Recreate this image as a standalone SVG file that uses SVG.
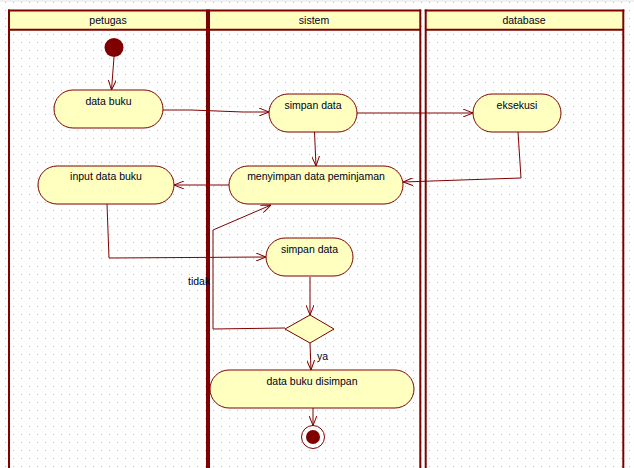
<svg xmlns="http://www.w3.org/2000/svg" width="634" height="468" viewBox="0 0 634 468">
<style>
.lane{stroke:#800000;fill:none}
.hdr{fill:#ffffc0}
.node rect,.node polygon{fill:#ffffc0;stroke:#800000;stroke-width:1}
text{font-family:"Liberation Sans",Arial,sans-serif;font-size:10.5px;fill:#000020}
.c text{text-anchor:start}
.node text,.lbl{text-anchor:middle}
.conn path{fill:none;stroke:#800000;stroke-width:1;marker-end:url(#arr)}
</style>
<defs>
<pattern id="grid" x="5" y="2" width="8" height="8" patternUnits="userSpaceOnUse">
<rect x="0" y="0" width="1" height="1" fill="#c0c0c0"/>
</pattern>
<marker id="arr" viewBox="0 0 10 8" refX="10" refY="4" markerWidth="10" markerHeight="8" orient="auto" markerUnits="userSpaceOnUse">
<path d="M0,0 L10,4 L0,8" fill="none" stroke="#800000" stroke-width="1"/>
</marker>
</defs>
<rect x="0" y="0" width="634" height="468" fill="#ffffff"/>
<rect x="0" y="0" width="634" height="468" fill="url(#grid)"/>
<rect x="0" y="0" width="634" height="2" fill="#f0f0f0"/>

<g id="lanes">
<rect class="hdr" x="9" y="10" width="198" height="20"/>
<rect class="hdr" x="210" y="10" width="210" height="20"/>
<rect class="hdr" x="426" y="10" width="197" height="20"/>
<path class="lane" stroke-width="2" d="M8,10.5 H421 M424.7,10.5 H624.3 M9,29.7 H420 M425,29.7 H623"/>
<path class="lane" stroke-width="2" d="M9,9.5 V468 M420.3,9.5 V468 M425.7,9.5 V468 M623.3,9.5 V468"/>
<path class="lane" stroke-width="4" d="M208,9.5 V468"/>
<text class="lbl" x="108" y="24">petugas</text>
<text class="lbl" x="314" y="24">sistem</text>
<text class="lbl" x="524" y="24">database</text>
</g>

<g id="start"><circle cx="114" cy="47.5" r="9.5" fill="#800000"/></g>
<g id="n_data_buku" class="node"><rect x="54" y="90" width="109" height="38" rx="19"/><text x="108.5" y="105">data buku</text></g>
<g id="n_simpan1" class="node"><rect x="269" y="94" width="88" height="38" rx="19"/><text x="313" y="108.5">simpan data</text></g>
<g id="n_eksekusi" class="node"><rect x="473" y="94" width="88" height="38" rx="19"/><text x="517" y="108.5">eksekusi</text></g>
<g id="n_menyimpan" class="node"><rect x="229" y="166" width="174" height="38" rx="19"/><text x="316" y="180">menyimpan data peminjaman</text></g>
<g id="n_input" class="node"><rect x="38" y="166" width="136" height="38" rx="19"/><text x="106" y="180">input data buku</text></g>
<g id="n_simpan2" class="node"><rect x="266" y="238" width="87" height="38" rx="19"/><text x="309.5" y="252.5">simpan data</text></g>
<g id="n_decision" class="node"><polygon points="310,315 334,329 310,343 285,329"/></g>
<g id="n_disimpan" class="node"><rect x="210" y="370" width="204" height="38" rx="19"/><text x="312" y="384.5">data buku disimpan</text></g>
<g id="end"><circle cx="313" cy="437" r="11.5" fill="#ffffff" stroke="#800000" stroke-width="1"/><circle cx="313" cy="437" r="7" fill="#800000"/></g>

<g id="connectors" class="conn">
<path d="M114,57 L111.5,90"/>
<path d="M163,110 L191,110 L243,112 L269,112"/>
<path d="M357,113 L473,113"/>
<path d="M314.5,132 L316,166"/>
<path d="M518,132 L521,178 L461,180 L403,182"/>
<path d="M229,185 L174,185"/>
<path d="M107,204 L109,258 L266,257"/>
<path d="M310,277 L310,315"/>
<path d="M285,328 L213,329 L213,230 L271,205"/>
<path d="M310,343 L311,370"/>
<path d="M313,408 L313,425.5"/>
<text x="188" y="285">tidak</text>
<text x="317" y="360">ya</text>
</g>
</svg>
